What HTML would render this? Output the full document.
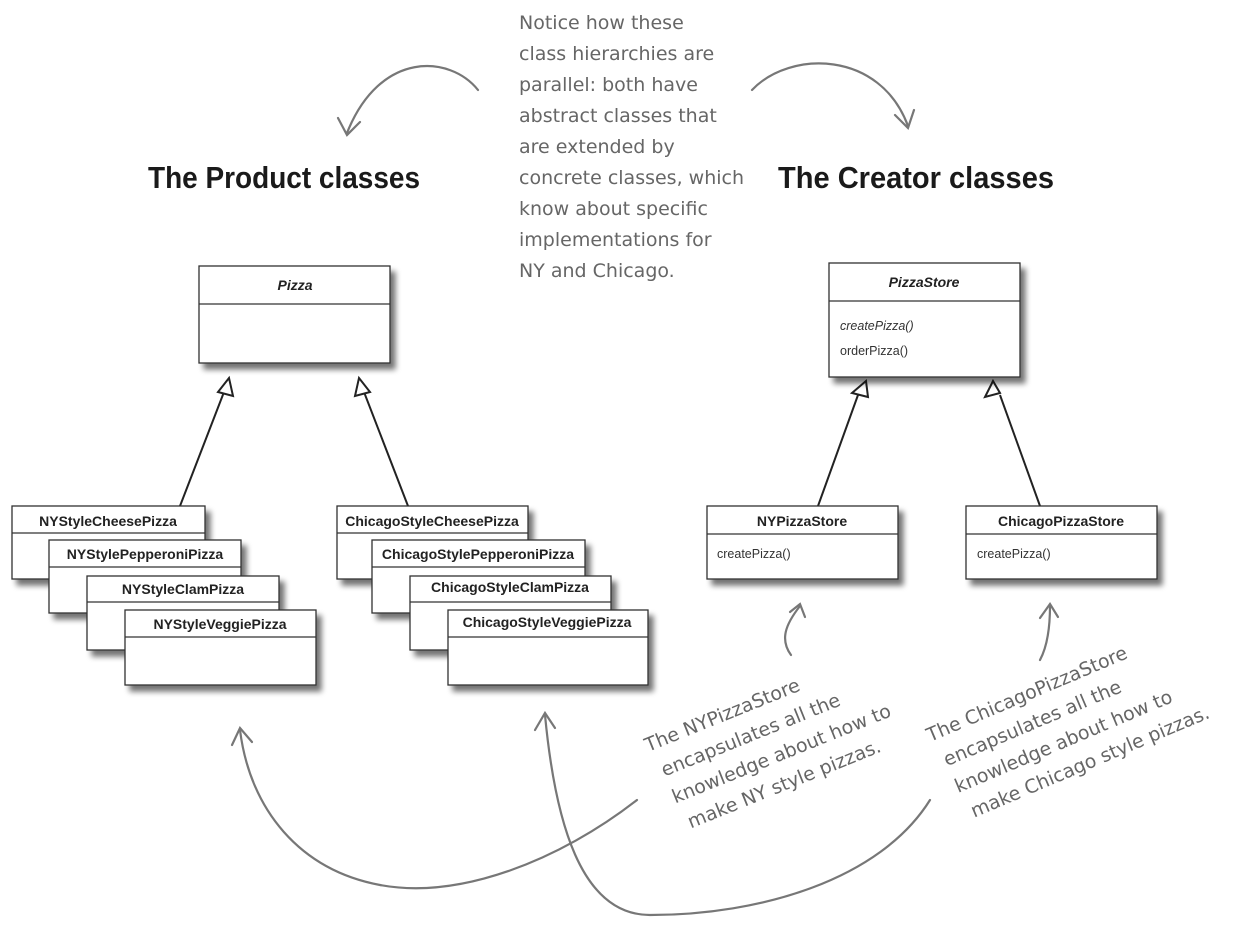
<!DOCTYPE html>
<html><head><meta charset="utf-8"><style>
html,body{margin:0;padding:0;background:#fff;}
svg{display:block;}
.cls{font-family:"Liberation Sans",sans-serif;font-size:14px;font-weight:bold;fill:#222;}
.m{font-family:"Liberation Sans",sans-serif;font-size:12.5px;fill:#333;}
.hand{font-family:"DejaVu Sans",sans-serif;font-size:19px;fill:#666;}
.title{font-family:"Liberation Sans",sans-serif;font-size:31px;font-weight:bold;fill:#1a1a1a;}
</style></head><body>
<svg width="1258" height="926" viewBox="0 0 1258 926" xmlns="http://www.w3.org/2000/svg">
<defs>
<filter id="sh" x="-10%" y="-10%" width="130%" height="140%">
<feGaussianBlur in="SourceAlpha" stdDeviation="3"/>
<feOffset dx="5" dy="6" result="b"/>
<feComponentTransfer><feFuncA type="linear" slope="0.55"/></feComponentTransfer>
<feMerge><feMergeNode/><feMergeNode in="SourceGraphic"/></feMerge>
</filter>
</defs>

<text class="title" x="148" y="188" textLength="272" lengthAdjust="spacingAndGlyphs">The Product classes</text>
<text class="title" x="778" y="188" textLength="276" lengthAdjust="spacingAndGlyphs">The Creator classes</text>

<g class="hand">
<text x="519" y="29">Notice how these</text>
<text x="519" y="60">class hierarchies are</text>
<text x="519" y="91">parallel: both have</text>
<text x="519" y="122">abstract classes that</text>
<text x="519" y="153">are extended by</text>
<text x="519" y="184">concrete classes, which</text>
<text x="519" y="215">know about specific</text>
<text x="519" y="246">implementations for</text>
<text x="519" y="277">NY and Chicago.</text>
</g>

<g fill="none" stroke="#777" stroke-width="2.2" stroke-linecap="round">
<path d="M478,90 C450,55 380,50 347,133"/>
<path d="M338,118 L347,135 L360,122"/>
<path d="M752,90 C790,50 880,50 908,126"/>
<path d="M895,115 L908,128 L914,110"/>
<path d="M637,800 C560,860 460,900 380,885 C300,870 250,810 240,730"/>
<path d="M232,745 L240,728 L252,742"/>
<path d="M930,800 C880,880 760,915 650,915 C580,915 555,820 545,715"/>
<path d="M535,730 L545,713 L555,728"/>
<path d="M791,655 C780,640 785,625 800,606"/>
<path d="M790,612 L800,604 L805,617"/>
<path d="M1040,660 C1048,645 1050,625 1050,606"/>
<path d="M1040,618 L1050,604 L1058,617"/>
</g>

<g class="hand">
<g transform="translate(648,752) rotate(-22)">
<text x="0" y="0">The NYPizzaStore</text>
<text x="6" y="29">encapsulates all the</text>
<text x="6" y="58">knowledge about how to</text>
<text x="11" y="87">make NY style pizzas.</text>
</g>
<g transform="translate(930,742) rotate(-23)">
<text x="0" y="0">The ChicagoPizzaStore</text>
<text x="6" y="29">encapsulates all the</text>
<text x="6" y="58">knowledge about how to</text>
<text x="11" y="87">make Chicago style pizzas.</text>
</g>
</g>

<!-- inheritance lines -->
<g stroke="#222" stroke-width="2" fill="#fff">
<line x1="180" y1="506" x2="224" y2="392"/>
<line x1="408" y1="506" x2="364" y2="392"/>
<line x1="818" y1="506" x2="858" y2="395"/>
<line x1="1040" y1="506" x2="1000" y2="395"/>
<polygon points="229,378 218,392 233,396"/>
<polygon points="359,378 355,396 370,392"/>
<polygon points="866,381 852,393 868,397"/>
<polygon points="993,381 985,397 1000,393"/>
</g>

<g stroke="#333" stroke-width="1.3" fill="#fff">
<!-- Pizza -->
<g filter="url(#sh)"><rect x="199" y="266" width="191" height="97"/></g>
<line x1="199" y1="304" x2="390" y2="304"/>
<!-- PizzaStore -->
<g filter="url(#sh)"><rect x="829" y="263" width="191" height="114"/></g>
<line x1="829" y1="301" x2="1020" y2="301"/>
<g filter="url(#sh)"><rect x="707" y="506" width="191" height="73"/></g>
<line x1="707" y1="534" x2="898" y2="534"/>
<g filter="url(#sh)"><rect x="966" y="506" width="191" height="73"/></g>
<line x1="966" y1="534" x2="1157" y2="534"/>

<g filter="url(#sh)"><rect x="12" y="506" width="193" height="73"/></g>
<line x1="12" y1="533" x2="205" y2="533"/>
<g filter="url(#sh)"><rect x="49" y="540" width="192" height="73"/></g>
<line x1="49" y1="567" x2="241" y2="567"/>
<g filter="url(#sh)"><rect x="87" y="576" width="192" height="74"/></g>
<line x1="87" y1="602" x2="279" y2="602"/>
<g filter="url(#sh)"><rect x="125" y="610" width="191" height="75"/></g>
<line x1="125" y1="637" x2="316" y2="637"/>

<g filter="url(#sh)"><rect x="337" y="506" width="191" height="73"/></g>
<line x1="337" y1="533" x2="528" y2="533"/>
<g filter="url(#sh)"><rect x="372" y="540" width="213" height="73"/></g>
<line x1="372" y1="567" x2="585" y2="567"/>
<g filter="url(#sh)"><rect x="410" y="576" width="201" height="74"/></g>
<line x1="410" y1="602" x2="611" y2="602"/>
<g filter="url(#sh)"><rect x="448" y="610" width="200" height="75"/></g>
<line x1="448" y1="637" x2="648" y2="637"/>
</g>

<g text-anchor="middle">
<text class="cls" x="295" y="290" font-style="italic">Pizza</text>
<text class="cls" x="924" y="287" font-style="italic">PizzaStore</text>
<text class="cls" x="802" y="526">NYPizzaStore</text>
<text class="cls" x="1061" y="526">ChicagoPizzaStore</text>
<text class="cls" x="108" y="526">NYStyleCheesePizza</text>
<text class="cls" x="145" y="559">NYStylePepperoniPizza</text>
<text class="cls" x="183" y="594">NYStyleClamPizza</text>
<text class="cls" x="220" y="629">NYStyleVeggiePizza</text>
<text class="cls" x="432" y="526">ChicagoStyleCheesePizza</text>
<text class="cls" x="478" y="559">ChicagoStylePepperoniPizza</text>
<text class="cls" x="510" y="592">ChicagoStyleClamPizza</text>
<text class="cls" x="547" y="627">ChicagoStyleVeggiePizza</text>
</g>
<text class="m" x="840" y="330" font-style="italic">createPizza()</text>
<text class="m" x="840" y="355">orderPizza()</text>
<text class="m" x="717" y="558">createPizza()</text>
<text class="m" x="977" y="558">createPizza()</text>
</svg>
</body></html>
